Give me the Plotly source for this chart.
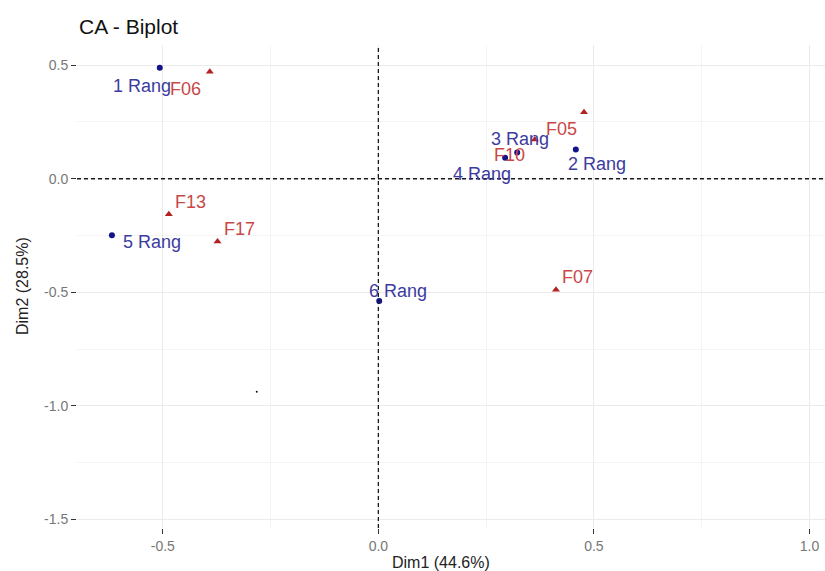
import plotly.graph_objects as go

# Row points (Rang) - blue dots
row_labels = ["1 Rang", "2 Rang", "3 Rang", "4 Rang", "5 Rang", "6 Rang"]
row_dim1 = [-0.507, 0.458, 0.322, 0.294, -0.618, 0.002]
row_dim2 = [0.489, 0.129, 0.116, 0.093, -0.249, -0.538]

# Column points (F..) - red triangles
col_labels = ["F05", "F06", "F07", "F10", "F13", "F17"]
col_dim1 = [0.477, -0.391, 0.412, 0.363, -0.486, -0.373]
col_dim2 = [0.293, 0.471, -0.489, 0.173, -0.156, -0.276]

# stray tiny point in the image
stray_dim1 = [-0.282]
stray_dim2 = [-0.938]

x_ticks = [-0.5, 0.0, 0.5, 1.0]
y_ticks = [-1.5, -1.0, -0.5, 0.0, 0.5]
x_title = "Dim1 (44.6%)"
y_title = "Dim2 (28.5%)"
title = "CA - Biplot"

# label offsets in pixels (dx right, dy up)
row_off = [(-18, -18), (21, -15), (3, 13), (-23, -16), (40, -7), (19, 10)]
col_off = [(-23, -17), (-24, -17), (22, 13), (-25, -16), (22, 12), (22, 12)]

FONT = "Liberation Sans, Arial, sans-serif"
ROW_C = "#14148A"
ROW_T = "#3C3C9E"
COL_C = "#B22222"
COL_T = "#C84848"

fig = go.Figure()
fig.add_trace(go.Scatter(x=row_dim1, y=row_dim2, mode="markers",
                         marker=dict(color=ROW_C, size=6, symbol="circle"),
                         hovertext=row_labels, showlegend=False))
fig.add_trace(go.Scatter(x=col_dim1, y=col_dim2, mode="markers",
                         marker=dict(color=COL_C, size=7, symbol="triangle-up"),
                         hovertext=col_labels, showlegend=False))
fig.add_trace(go.Scatter(x=stray_dim1, y=stray_dim2, mode="markers",
                         marker=dict(color="#111111", size=2),
                         showlegend=False))

for lab, x, y, (dx, dy) in zip(row_labels, row_dim1, row_dim2, row_off):
    fig.add_annotation(x=x, y=y, xref="x", yref="y", text=lab, showarrow=False,
                       xshift=dx, yshift=dy, font=dict(family=FONT, size=18, color=ROW_T))
for lab, x, y, (dx, dy) in zip(col_labels, col_dim1, col_dim2, col_off):
    fig.add_annotation(x=x, y=y, xref="x", yref="y", text=lab, showarrow=False,
                       xshift=dx, yshift=dy, font=dict(family=FONT, size=18, color=COL_T))

fig.add_hline(y=0, line=dict(color="#1a1a1a", width=1.3, dash="4px,3px"))
fig.add_vline(x=0, line=dict(color="#1a1a1a", width=1.3, dash="4px,3px"))

fig.add_annotation(text=title, xref="paper", yref="paper", x=0, y=1, xanchor="left",
                   yanchor="bottom", xshift=0, yshift=5, showarrow=False,
                   font=dict(family=FONT, size=21, color="#111111"))
fig.add_annotation(text=x_title, xref="paper", yref="paper", x=0.487, y=0, xanchor="center",
                   yanchor="top", yshift=-24, showarrow=False,
                   font=dict(family=FONT, size=16, color="#222222"))
fig.add_annotation(text=y_title, xref="paper", yref="paper", x=0, y=0.5, xanchor="right",
                   yanchor="middle", xshift=-44, textangle=-90, showarrow=False,
                   font=dict(family=FONT, size=16, color="#222222"))

fig.update_layout(
    width=825, height=571,
    margin=dict(l=77, r=0, t=45, b=43),
    paper_bgcolor="white", plot_bgcolor="white",
    font=dict(family=FONT),
    xaxis=dict(range=[-0.699, 1.036], tickvals=x_ticks,
               ticktext=[f"{v:.1f}" for v in x_ticks], automargin=False,
               showgrid=True, gridcolor="#EBEBEB", gridwidth=1,
               minor=dict(dtick=0.25, showgrid=True, gridcolor="#F4F4F4", gridwidth=1),
               zeroline=False, showline=False,
               ticks="outside", ticklen=5, tickcolor="#333333",
               tickfont=dict(family=FONT, size=14, color="#777777")),
    yaxis=dict(range=[-1.538, 0.589], tickvals=y_ticks,
               ticktext=[f"{v:.1f}" for v in y_ticks], automargin=False,
               showgrid=True, gridcolor="#EBEBEB", gridwidth=1,
               minor=dict(dtick=0.25, showgrid=True, gridcolor="#F4F4F4", gridwidth=1),
               zeroline=False, showline=False,
               ticks="outside", ticklen=5, tickcolor="#333333",
               tickfont=dict(family=FONT, size=14, color="#777777")),
)

fig.write_html("out.html", config={"displayModeBar": False},
               post_script="document.body.style.margin='0';document.body.style.overflow='hidden';")
